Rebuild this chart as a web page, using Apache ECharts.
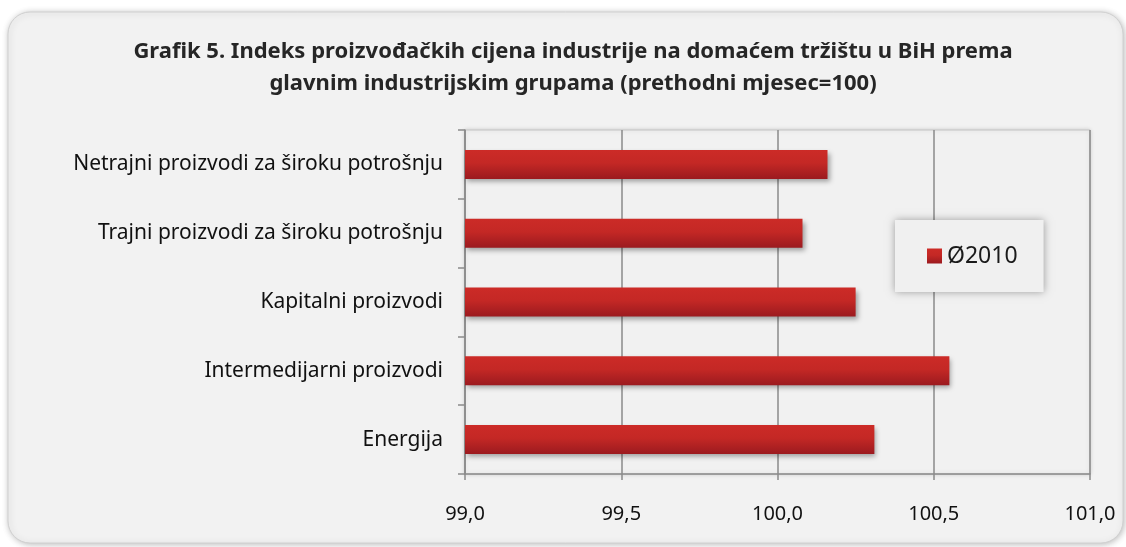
<!DOCTYPE html>
<html>
<head>
<meta charset="utf-8">
<script src="https://cdn.jsdelivr.net/npm/echarts@6/dist/echarts.min.js"></script>
<style>
html,body{margin:0;padding:0;background:#ffffff;}
#c{width:1126px;height:547px;}
</style>
</head>
<body>
<div id="c"></div>
<script>
const categories = ['Energija', 'Intermedijarni proizvodi', 'Kapitalni proizvodi', 'Trajni proizvodi za široku potrošnju', 'Netrajni proizvodi za široku potrošnju'];
const seriesName = 'Ø2010';
const values = [100.31, 100.55, 100.25, 100.08, 100.16];
const xMin = 99.0, xMax = 101.0, xStep = 0.5;
const titleLines = ['Grafik 5. Indeks proizvođačkih cijena industrije na domaćem tržištu u BiH prema', 'glavnim industrijskim grupama (prethodni mjesec=100)'];

const chart = echarts.init(document.getElementById('c'), null, {renderer: 'canvas'});
const font = 'Noto Sans';
chart.setOption({
  backgroundColor: '#ffffff',
  animation: false,
  graphic: [{
    type: 'rect', z: -10, silent: true,
    shape: {x: 8, y: 12, width: 1115, height: 531, r: 22},
    style: {fill: '#f2f2f2', stroke: '#d0d0d0', lineWidth: 1, shadowBlur: 6, shadowColor: 'rgba(0,0,0,0.25)', shadowOffsetX: 1, shadowOffsetY: 1}
  }],
  title: {
    text: titleLines.join('\n'),
    left: 568, top: 31, textAlign: 'center',
    textStyle: {fontFamily: font, fontWeight: 'bold', fontSize: 22, color: '#262626', lineHeight: 32}
  },
  legend: {
    data: [seriesName],
    left: 895, top: 220,
    padding: [24, 26, 24, 32],
    itemWidth: 15, itemHeight: 15, itemGap: 0,
    icon: 'rect',
    backgroundColor: '#f0f0f0',
    shadowBlur: 8, shadowColor: 'rgba(0,0,0,0.35)',
    textStyle: {fontFamily: font, fontSize: 23, lineHeight: 24, color: '#1a1a1a'}
  },
  grid: {
    left: 465, right: 36, top: 130, bottom: 73,
    show: true, backgroundColor: '#f1f1f1', borderColor: '#c4c4c4', borderWidth: 1,
    shadowBlur: 4, shadowColor: 'rgba(0,0,0,0.15)'
  },
  xAxis: {
    type: 'value', min: xMin, max: xMax, interval: xStep,
    axisLine: {show: true, lineStyle: {color: '#8a8a8a', width: 1.5}},
    axisTick: {show: true, length: 6, lineStyle: {color: '#8a8a8a', width: 1.5}},
    splitLine: {show: true, lineStyle: {color: '#8a8a8a', width: 1.5}},
    axisLabel: {fontFamily: font, fontSize: 20, color: '#111111', margin: 30,
      formatter: v => v.toFixed(1).replace('.', ',')}
  },
  yAxis: {
    type: 'category', data: categories,
    axisLine: {show: true, lineStyle: {color: '#8a8a8a', width: 1.5}},
    axisTick: {show: true, length: 7, lineStyle: {color: '#8a8a8a', width: 1.5}},
    axisLabel: {fontFamily: font, fontSize: 21, color: '#111111', margin: 22}
  },
  series: [{
    name: seriesName, type: 'bar', data: values, barWidth: 29,
    itemStyle: {
      color: new echarts.graphic.LinearGradient(0, 0, 0, 1, [
        {offset: 0, color: '#cc2b27'}, {offset: 0.45, color: '#c42825'}, {offset: 1, color: '#9b1a1f'}
      ]),
      shadowBlur: 5, shadowColor: 'rgba(0,0,0,0.35)', shadowOffsetX: 2, shadowOffsetY: 3
    }
  }]
});
</script>
</body>
</html>
